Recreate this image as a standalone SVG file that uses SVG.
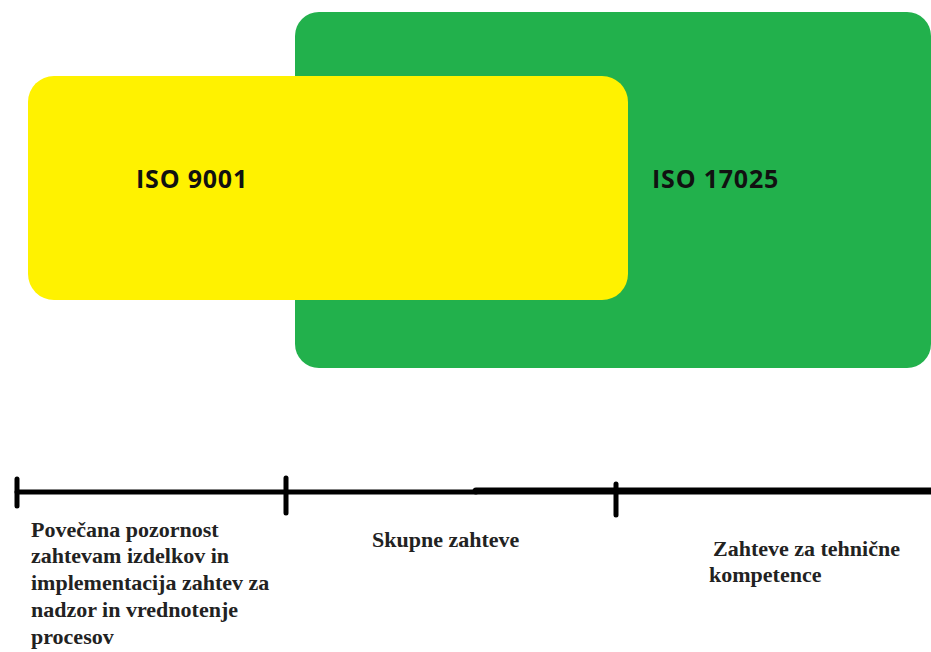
<svg xmlns="http://www.w3.org/2000/svg" width="931" height="652" viewBox="0 0 931 652">
<style>
.iso{font-family:"Open Sans","Liberation Sans",sans-serif;font-weight:bold;font-size:25px;letter-spacing:0.8px;fill:#111}
.lbl{font-family:"Liberation Serif","Times New Roman",serif;font-weight:bold;font-size:22px;fill:#222}
.axis{stroke:#000;stroke-linecap:round;fill:none}
</style>
<rect width="931" height="652" fill="#fff"/>
<g id="iso17025">
<rect x="295" y="12" width="636" height="356" rx="24" fill="#22b14c"/>
<text class="iso" x="652" y="188">ISO 17025</text>
</g>
<g id="iso9001">
<rect x="28" y="76" width="600" height="224" rx="26" fill="#fff200"/>
<text class="iso" x="136" y="188">ISO 9001</text>
</g>
<g id="connectors">
<line class="axis" x1="17" y1="492" x2="476" y2="492" stroke-width="5" stroke-linecap="butt"/>
<line class="axis" x1="476" y1="491" x2="931" y2="491" stroke-width="7" stroke-linecap="butt"/>
<line class="axis" x1="17" y1="479" x2="17" y2="506" stroke-width="5"/>
<line class="axis" x1="286" y1="478" x2="286" y2="513" stroke-width="5"/>
<line class="axis" x1="616" y1="484" x2="616" y2="515" stroke-width="5"/>
</g>
<g id="label1">
<text class="lbl" x="31" y="537">Povečana pozornost</text>
<text class="lbl" x="31" y="563">zahtevam izdelkov in</text>
<text class="lbl" x="31" y="590">implementacija zahtev za</text>
<text class="lbl" x="31" y="617">nadzor in vrednotenje</text>
<text class="lbl" x="31" y="644">procesov</text>
</g>
<g id="label2">
<text class="lbl" x="372" y="547">Skupne zahteve</text>
</g>
<g id="label3">
<text class="lbl" x="713" y="556">Zahteve za tehnične</text>
<text class="lbl" x="709" y="582">kompetence</text>
</g>
</svg>
